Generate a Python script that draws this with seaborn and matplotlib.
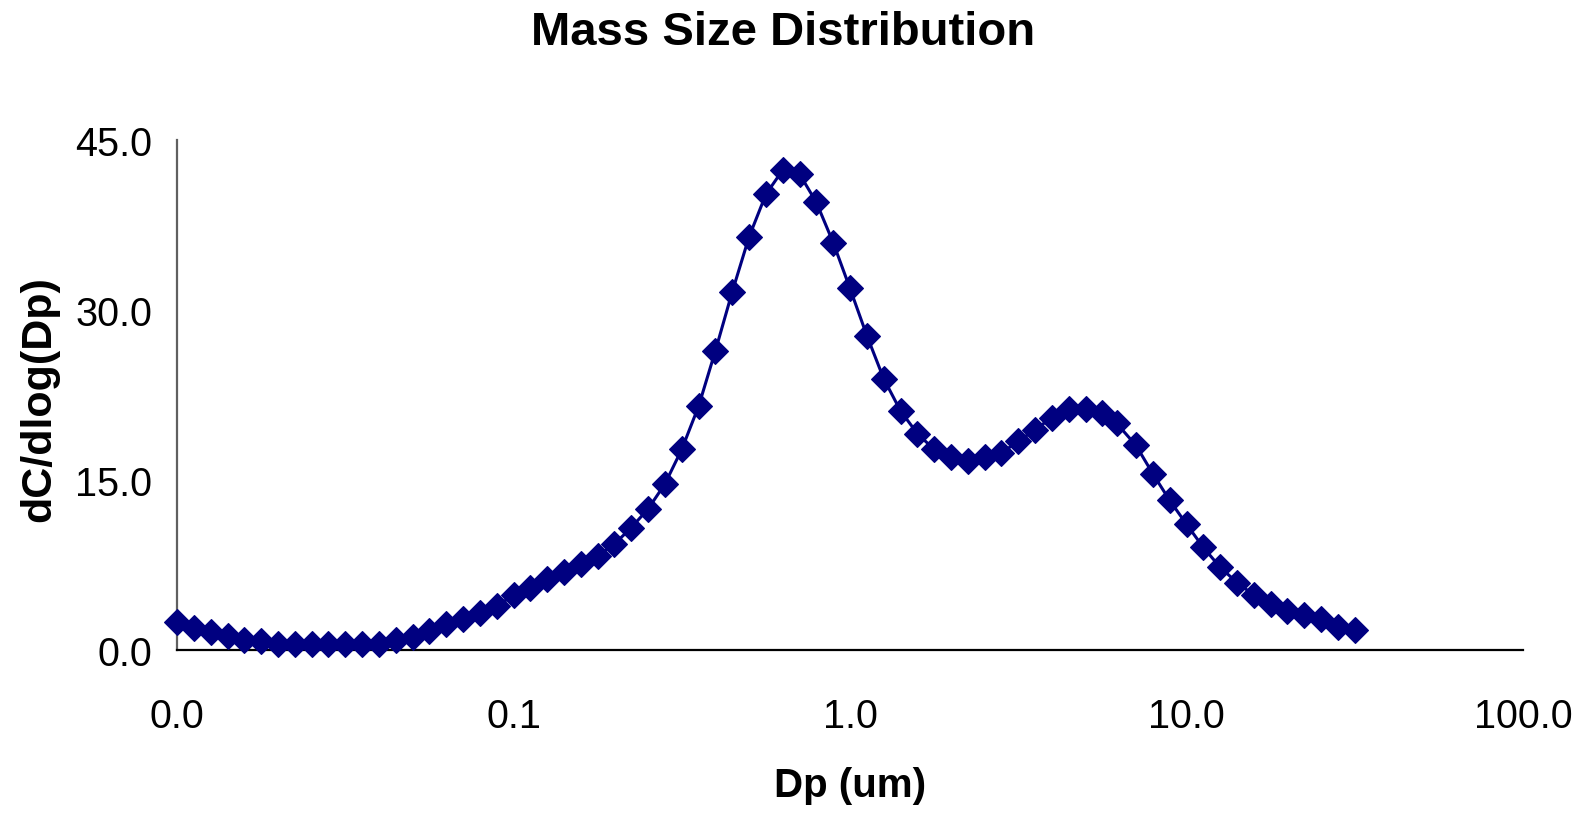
import numpy as np
import pandas as pd
import matplotlib
matplotlib.use("Agg")
import matplotlib.pyplot as plt
from matplotlib.ticker import FixedLocator, FixedFormatter, NullLocator
import seaborn as sns

# ---------------- data ----------------
dp_um = [0.01000, 0.01122, 0.01259, 0.01413, 0.01585, 0.01778, 0.01995, 0.02239, 0.02512, 0.02818,
         0.03162, 0.03548, 0.03981, 0.04467, 0.05012, 0.05623, 0.06310, 0.07079, 0.07943, 0.08913,
         0.1000, 0.1122, 0.1259, 0.1413, 0.1585, 0.1778, 0.1995, 0.2239, 0.2512, 0.2818,
         0.3162, 0.3548, 0.3981, 0.4467, 0.5012, 0.5623, 0.6310, 0.7079, 0.7943, 0.8913,
         1.000, 1.122, 1.259, 1.413, 1.585, 1.778, 1.995, 2.239, 2.512, 2.818,
         3.162, 3.548, 3.981, 4.467, 5.012, 5.623, 6.20, 7.079, 7.943, 8.913,
         10.00, 11.22, 12.59, 14.13, 15.85, 17.78, 19.95, 22.39, 25.12, 28.18,
         31.62]
dc_dlogdp = [2.45, 1.90, 1.55, 1.20, 0.85, 0.80, 0.55, 0.50, 0.50, 0.50,
             0.50, 0.50, 0.55, 0.85, 1.15, 1.70, 2.30, 2.70, 3.30, 3.85,
             4.85, 5.50, 6.25, 6.90, 7.60, 8.30, 9.35, 10.8, 12.45, 14.65,
             17.7, 21.5, 26.4, 31.6, 36.45, 40.2, 42.35, 42.0, 39.5, 35.95,
             31.9, 27.75, 23.95, 21.1, 19.1, 17.7, 17.0, 16.65, 17.0, 17.4,
             18.4, 19.45, 20.5, 21.3, 21.3, 20.95, 20.0, 18.05, 15.55, 13.2,
             11.1, 9.05, 7.3, 5.95, 4.85, 4.1, 3.45, 3.05, 2.75, 2.06,
             1.73]
x_ticks = [0.01, 0.1, 1, 10, 100]
x_tick_labels = ["0.0", "0.1", "1.0", "10.0", "100.0"]
y_ticks = [0, 15, 30, 45]
y_tick_labels = ["0.0", "15.0", "30.0", "45.0"]
title = "Mass Size Distribution"
x_label = "Dp (um)"
y_label = "dC/dlog(Dp)"

df = pd.DataFrame({"Dp": dp_um, "dC": dc_dlogdp})

# ---------------- style ----------------
sns.set_style("white")
plt.rcParams["font.family"] = ["Liberation Sans", "DejaVu Sans"]
plt.rcParams["text.color"] = "black"
plt.rcParams["axes.labelcolor"] = "black"
plt.rcParams["xtick.color"] = "black"
plt.rcParams["ytick.color"] = "black"

navy = "#000080"

fig = plt.figure(figsize=(15.81, 8.20), dpi=100)
ax = fig.add_axes([177 / 1581, 1 - 651 / 820, 1346 / 1581, 510 / 820])

sns.lineplot(data=df, x="Dp", y="dC", ax=ax, color=navy, linewidth=2.2,
             marker="D", markersize=13.5, markeredgecolor=navy, markerfacecolor=navy,
             markeredgewidth=0.8, sort=False, estimator=None, legend=False)
for ln in ax.lines:
    ln.set_clip_on(False)
    ln.set_zorder(5)

ax.set_xscale("log")
ax.set_xlim(0.01, 100)
ax.set_ylim(0, 45)
ax.xaxis.set_major_locator(FixedLocator(x_ticks))
ax.xaxis.set_major_formatter(FixedFormatter(x_tick_labels))
ax.xaxis.set_minor_locator(NullLocator())
ax.yaxis.set_major_locator(FixedLocator(y_ticks))
ax.yaxis.set_major_formatter(FixedFormatter(y_tick_labels))

for s in ["top", "right"]:
    ax.spines[s].set_visible(False)
ax.spines["bottom"].set_color("black")
ax.spines["bottom"].set_linewidth(1.6)
ax.spines["left"].set_color("#606060")
ax.spines["left"].set_linewidth(1.6)

ax.tick_params(axis="x", which="major", direction="out", length=7, width=1.2,
               color="#808080", pad=27, labelsize=28.5, labelcolor="black")
ax.tick_params(axis="y", which="major", direction="out", length=7, width=1.2,
               color="#606060", pad=11, labelsize=28.5, labelcolor="black")

ax.set_xlabel(x_label, fontsize=29, fontweight="bold", color="black")
ax.xaxis.label.set_va("center")
ax.xaxis.set_label_coords(0.5, -0.265)

ax.set_ylabel(y_label, fontsize=31, fontweight="bold", color="black")
ax.yaxis.label.set_va("center")
ax.yaxis.set_label_coords(-0.102, 0.494)

fig.text(0.4955, 1 - 33 / 820, title, ha="center", va="center", fontsize=34,
         fontweight="bold", color="black")

ax.grid(False)
fig.savefig("out.png", dpi=100, facecolor="white")
